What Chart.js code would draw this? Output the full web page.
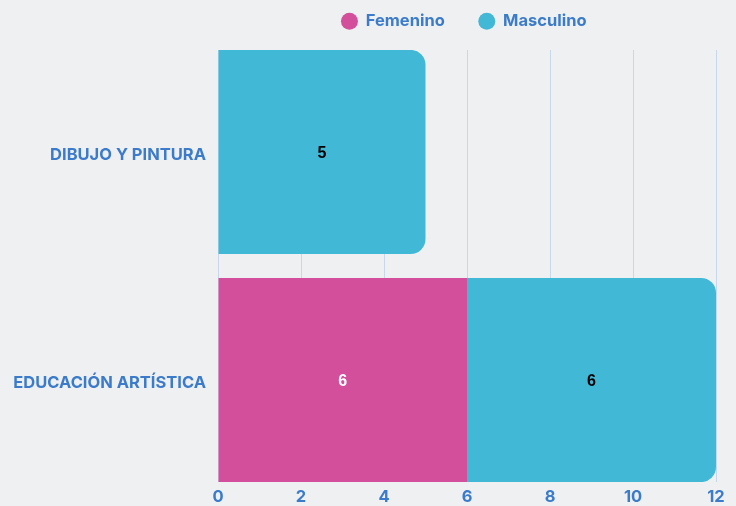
<!DOCTYPE html>
<html>
<head>
<meta charset="utf-8">
<title>Femenino / Masculino</title>
<script src="https://cdn.jsdelivr.net/npm/chart.js"></script>
<style>
  html, body { margin: 0; padding: 0; background: #eff0f2; }
  #wrap { width: 736px; height: 506px; position: relative; }
</style>
</head>
<body>
<div id="wrap"><canvas id="chart"></canvas></div>
<script>
// data
const categories = ["DIBUJO Y PINTURA", "EDUCACIÓN ARTÍSTICA"];
const femenino = [0, 6];
const masculino = [5, 6];
const xTicks = [0, 2, 4, 6, 8, 10, 12];

const PINK = "#d44f9b";
const CYAN = "#42b8d7";
const BLUE = "#3b7bcb";
const labelColors = ["#ffffff", "#000000"];

Chart.defaults.font.family = "Inter, 'Noto Sans', sans-serif";

// shrink the legend box so the chart starts right under it,
// and nudge it a little to the left like in the picture
const legendFit = {
	id: "legendFit",
	beforeInit(chart) {
		const fit = chart.legend.fit;
		chart.legend.fit = function () {
			fit.call(this);
			this.height = 71;
		};
	},
	afterLayout(chart) {
		chart.legend.left -= 3;
		chart.legend.right -= 3;
	}
};

// numbers in the middle of each bar piece
const valueLabels = {
	id: "valueLabels",
	afterDatasetsDraw(chart) {
		const ctx = chart.ctx;
		ctx.save();
		ctx.font = "bold 16px 'Liberation Sans', Arial, sans-serif";
		ctx.textAlign = "center";
		ctx.textBaseline = "middle";
		chart.data.datasets.forEach((ds, i) => {
			chart.getDatasetMeta(i).data.forEach((bar, j) => {
				const v = ds.data[j];
				if (!v) return;
				const p = bar.getCenterPoint();
				ctx.fillStyle = labelColors[i];
				ctx.fillText(String(v), p.x, p.y + 2);
			});
		});
		ctx.restore();
	}
};

new Chart(document.getElementById("chart"), {
	type: "bar",
	data: {
		labels: categories,
		datasets: [
			{
				label: "Femenino",
				data: femenino,
				backgroundColor: PINK,
				borderRadius: 0,
				borderSkipped: "start"
			},
			{
				label: "Masculino",
				data: masculino,
				backgroundColor: CYAN,
				borderRadius: 15,
				borderSkipped: "start"
			}
		]
	},
	options: {
		indexAxis: "y",
		responsive: true,
		maintainAspectRatio: false,
		animation: false,
		layout: { padding: { top: -21, right: 20, bottom: 0, left: 0 } },
		datasets: { bar: { categoryPercentage: 1, barPercentage: 0.895 } },
		scales: {
			x: {
				stacked: true,
				min: 0,
				max: 12,
				afterBuildTicks: (s) => { s.ticks = xTicks.map(v => ({ value: v })); },
				afterFit: (s) => { s.height = 24; },
				grid: { color: "#c9d7ea", drawTicks: false },
				border: { display: false },
				ticks: { color: BLUE, padding: 5, font: { size: 16.5, weight: "bold" } }
			},
			y: {
				stacked: true,
				grid: { display: false, drawTicks: false },
				border: { display: false },
				afterBuildTicks: (s) => { s._startValue = -0.447; s._valueRange = 1.894; },
				afterFit: (s) => { s.width = 218; },
				ticks: { color: BLUE, padding: 12, labelOffset: 3, font: { size: 16.5, weight: "bold" } }
			}
		},
		plugins: {
			legend: {
				position: "top",
				fullSize: false,
				labels: {
					usePointStyle: true,
					pointStyle: "circle",
					boxWidth: 16,
					boxHeight: 12,
					padding: 34,
					color: BLUE,
					font: { size: 16.5, weight: "bold" }
				}
			},
			tooltip: { enabled: false }
		}
	},
	plugins: [legendFit, valueLabels]
});
</script>
</body>
</html>
